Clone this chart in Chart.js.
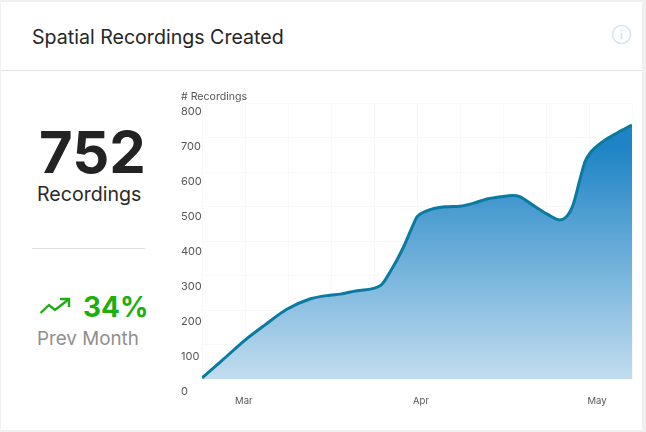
<!DOCTYPE html>
<html>
<head>
<meta charset="utf-8">
<script src="https://cdn.jsdelivr.net/npm/chart.js@4"></script>
<style>
  html, body { margin: 0; padding: 0; background: #f0f0f0; }
  body { width: 646px; height: 432px; position: relative; overflow: hidden; font-family: Inter, sans-serif; }
  .card { position: absolute; left: 1px; top: 2px; width: 641px; height: 428px; background: #fff; }
  .abs { position: absolute; white-space: nowrap; }
  .head-line { position: absolute; left: 1px; top: 70px; width: 641px; height: 1px; background: #e3e3e3; }
  .divider { position: absolute; left: 32px; top: 248px; width: 113px; height: 1px; background: #dedede; }
  #title { left: 32px; top: 25px; font-size: 19.6px; line-height: 24px; color: #262626; }
  #total { left: 39px; top: 117px; font-size: 58px; line-height: 70px; font-weight: 700; color: #232323; }
  #unit { left: 37px; top: 182px; font-size: 19.6px; line-height: 24px; color: #2a2a2a; }
  #pct { left: 83px; top: 289px; font-size: 28px; line-height: 36px; font-weight: 700; color: #1fae12; }
  #prev { left: 37px; top: 327px; font-size: 18.8px; line-height: 24px; color: #8f8f8f; }
  canvas { position: absolute; left: 181px; top: 88px; }
</style>
</head>
<body>
<div class="card"></div>
<div class="head-line"></div>
<div class="abs" id="title">Spatial Recordings Created</div>
<svg class="abs" style="left:611px;top:24px" width="21" height="21" viewBox="0 0 21 21">
  <circle cx="10.5" cy="10.5" r="9" fill="none" stroke="#d3e7f3" stroke-width="1.6"/>
  <rect x="9.6" y="9" width="1.8" height="6.5" fill="#d3e7f3"/>
  <rect x="9.6" y="5.6" width="1.8" height="1.8" fill="#d3e7f3"/>
</svg>
<div class="abs" id="total">752</div>
<div class="abs" id="unit">Recordings</div>
<div class="divider"></div>
<svg class="abs" style="left:39px;top:297px" width="32" height="20" viewBox="0 0 32 20">
  <polyline points="1.5,16 10,8 16,13 30,2" fill="none" stroke="#1fae12" stroke-width="2.4"/>
  <polyline points="21,2 30,2 30,10" fill="none" stroke="#1fae12" stroke-width="2.4"/>
</svg>
<div class="abs" id="pct">34%</div>
<div class="abs" id="prev">Prev Month</div>
<canvas id="myChart" width="460" height="322"></canvas>
<script>
const days = [0, 3.66, 7.3, 11, 14.8, 18.8, 22.3, 24.1, 27, 31.2, 32.8, 34.9, 36.6, 37.5, 38.9, 42.4, 45, 47.3, 49.7, 52, 54.2, 55.5, 57.7, 60.2, 62.4, 63.8, 64.7, 65.9, 66.8, 67.7, 69.9, 72.4, 75];
const recordings = [3, 56, 110, 157, 202, 232, 243, 246, 256, 272, 310, 374, 438, 470, 485, 499, 501, 509, 522, 528, 532, 528, 504, 478, 461, 475, 504, 577, 630, 655, 688, 713, 736];
const monthTicks = [7.3, 38.2, 68.9];
const monthLabels = ['Mar', 'Apr', 'May'];
const yTicks = [0, 100, 200, 300, 400, 500, 600, 700, 800];

const ctx = document.getElementById('myChart').getContext('2d');

function areaFill(context) {
    const area = context.chart.chartArea;
    if (!area) return '#7fb6db';
    const grad = context.chart.ctx.createLinearGradient(0, area.top + 45, 0, area.bottom);
    grad.addColorStop(0, '#1f84c6');
    grad.addColorStop(1, '#c2ddef');
    return grad;
}

new Chart(ctx, {
    type: 'line',
    data: {
        datasets: [{
            data: days.map((d, i) => ({ x: d, y: recordings[i] })),
            borderColor: '#0b7aa0',
            borderWidth: 3,
            backgroundColor: areaFill,
            fill: 'origin',
            pointRadius: 0,
            cubicInterpolationMode: 'monotone'
        }]
    },
    options: {
        responsive: false,
        animation: false,
        layout: { autoPadding: false, padding: { right: 9 } },
        plugins: {
            legend: { display: false },
            tooltip: { enabled: false },
            title: {
                display: true,
                text: '# Recordings',
                align: 'start',
                color: '#555',
                font: { family: 'Inter', size: 10.6, weight: 'normal' },
                padding: { top: 2, bottom: 0.3 }
            }
        },
        scales: {
            x: {
                type: 'linear',
                min: 0,
                max: 75,
                border: { display: false },
                grid: { color: '#f8f8f8', drawTicks: false },
                ticks: { display: false, stepSize: 7.5 },
                afterFit(axis) { axis.height = 0; }
            },
            months: {
                type: 'linear',
                position: 'bottom',
                min: 0,
                max: 75,
                border: { display: false },
                grid: { display: false, drawTicks: false },
                afterBuildTicks(axis) { axis.ticks = monthTicks.map(v => ({ value: v })); },
                ticks: {
                    color: '#555',
                    font: { family: 'Inter', size: 9.5 },
                    padding: 16,
                    maxRotation: 0,
                    autoSkip: false,
                    callback: v => monthLabels[monthTicks.indexOf(v)]
                },
                afterFit(axis) { axis.height = 31; }
            },
            y: {
                min: 0,
                max: 800,
                border: { display: false },
                grid: { color: '#f8f8f8', drawTicks: false },
                ticks: { display: false, stepSize: 100 },
                afterFit(axis) { axis.width = 0; }
            },
            // labels sit lower than the grid lines and are spaced a bit wider
            yLabels: {
                type: 'linear',
                position: 'left',
                min: 37,
                max: 825.5,
                border: { display: false },
                grid: { display: false, drawTicks: false },
                afterBuildTicks(axis) { axis.ticks = yTicks.map(v => ({ value: v })); },
                ticks: {
                    color: '#555',
                    font: { family: 'Inter', size: 11 },
                    crossAlign: 'far',
                    padding: 0,
                    autoSkip: false
                },
                afterFit(axis) { axis.width = 21; }
            }
        }
    }
});
</script>
</body>
</html>
